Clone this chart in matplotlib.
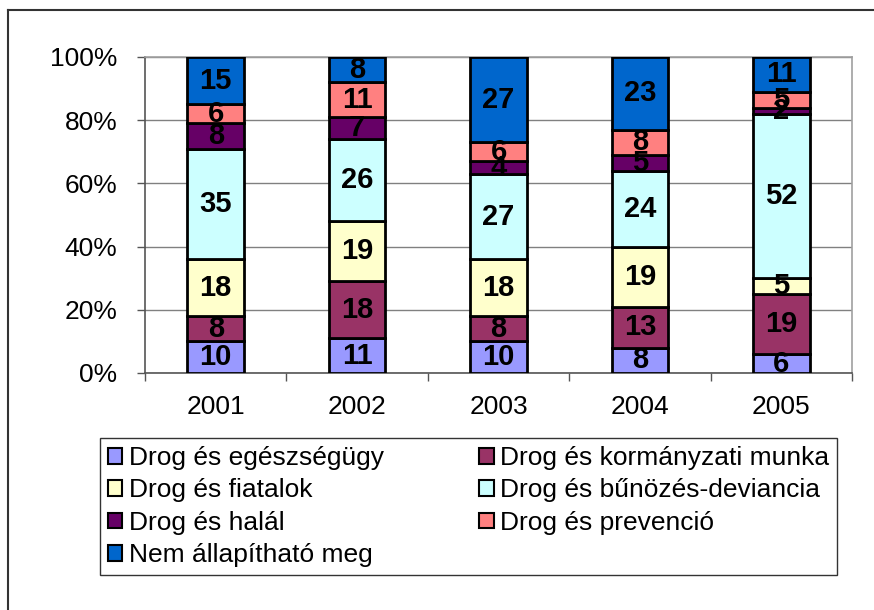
import matplotlib
matplotlib.use("Agg")
import matplotlib.pyplot as plt
from matplotlib.patches import Patch
from matplotlib.lines import Line2D
import numpy as np

plt.rcParams['font.family'] = ['Liberation Sans', 'DejaVu Sans']

years = ['2001', '2002', '2003', '2004', '2005']
series_names = ['Drog és egészségügy', 'Drog és kormányzati munka', 'Drog és fiatalok',
                'Drog és bűnözés-deviancia', 'Drog és halál', 'Drog és prevenció',
                'Nem állapítható meg']
egeszsegugy = [10, 11, 10, 8, 6]
kormanyzati = [8, 18, 8, 13, 19]
fiatalok = [18, 19, 18, 19, 5]
bunozes = [35, 26, 27, 24, 52]
halal = [8, 7, 4, 5, 2]
prevencio = [6, 11, 6, 8, 5]
nem_allapithato = [15, 8, 27, 23, 11]
series = [egeszsegugy, kormanyzati, fiatalok, bunozes, halal, prevencio, nem_allapithato]
colors = ['#9999FF', '#993366', '#FFFFCC', '#CCFFFF', '#660066', '#FF8080', '#0066CC']
y_ticks = [0, 20, 40, 60, 80, 100]
y_labels = ['0%', '20%', '40%', '60%', '80%', '100%']

W, H = 874, 610
fig = plt.figure(figsize=(W / 100, H / 100), dpi=100)

# outer frame
fig.add_artist(Line2D([8 / W, 8 / W], [0, 1 - 10 / H], color='#333333', lw=1.5, transform=fig.transFigure))
fig.add_artist(Line2D([8 / W, 1], [1 - 10 / H, 1 - 10 / H], color='#333333', lw=1.5, transform=fig.transFigure))

ax = fig.add_axes([145 / W, (H - 373) / H, 707 / W, 316 / H])
x = np.arange(len(years))
totals = np.sum(np.array(series), axis=0)
bottom = np.zeros(len(years))
for vals, col in zip(series, colors):
    pct = np.array(vals) / totals * 100
    ax.bar(x, pct, width=0.4, bottom=bottom, color=col, edgecolor='black', linewidth=2, zorder=3)
    for xi, b, p, v in zip(x, bottom, pct, vals):
        ax.text(xi, b + p / 2, str(v), ha='center', va='center', fontsize=21,
                fontweight='bold', color='black', zorder=4)
    bottom += pct

ax.set_xlim(-0.5, len(years) - 0.5)
ax.set_ylim(0, 100)
ax.set_yticks(y_ticks)
ax.set_yticklabels(y_labels, fontsize=19)
ax.set_xticks(x)
ax.set_xticklabels(years, fontsize=19)
ax.set_xticks(np.arange(-0.5, len(years)), minor=True)
ax.tick_params(axis='x', which='major', length=0, pad=16)
ax.tick_params(axis='x', which='minor', length=6, width=1, color='#555555', direction='out')
ax.tick_params(axis='y', length=6, width=1, color='#555555', direction='out', pad=14)
ax.yaxis.grid(True, color='#808080', linewidth=1, zorder=0)
for s in ['top', 'right']:
    ax.spines[s].set_color('#A0A0A0')
for s in ['left', 'bottom']:
    ax.spines[s].set_color('#555555')
for s in ax.spines.values():
    s.set_linewidth(1.2)

handles = [Patch(facecolor=c, edgecolor='black', linewidth=1.5) for c in colors]
order = [0, 2, 4, 6, 1, 3, 5]
leg = fig.legend([handles[i] for i in order], [series_names[i] for i in order],
                 loc='upper left', bbox_to_anchor=(100 / W, 1 - 438 / H), ncol=2,
                 fontsize=19, frameon=True, fancybox=False, edgecolor='black',
                 handlelength=0.55, handleheight=0.55, handletextpad=0.25,
                 columnspacing=3.6, labelspacing=0.32, borderpad=0.3, borderaxespad=0)
leg.get_frame().set_linewidth(1)

fig.savefig('out.png', dpi=100)
